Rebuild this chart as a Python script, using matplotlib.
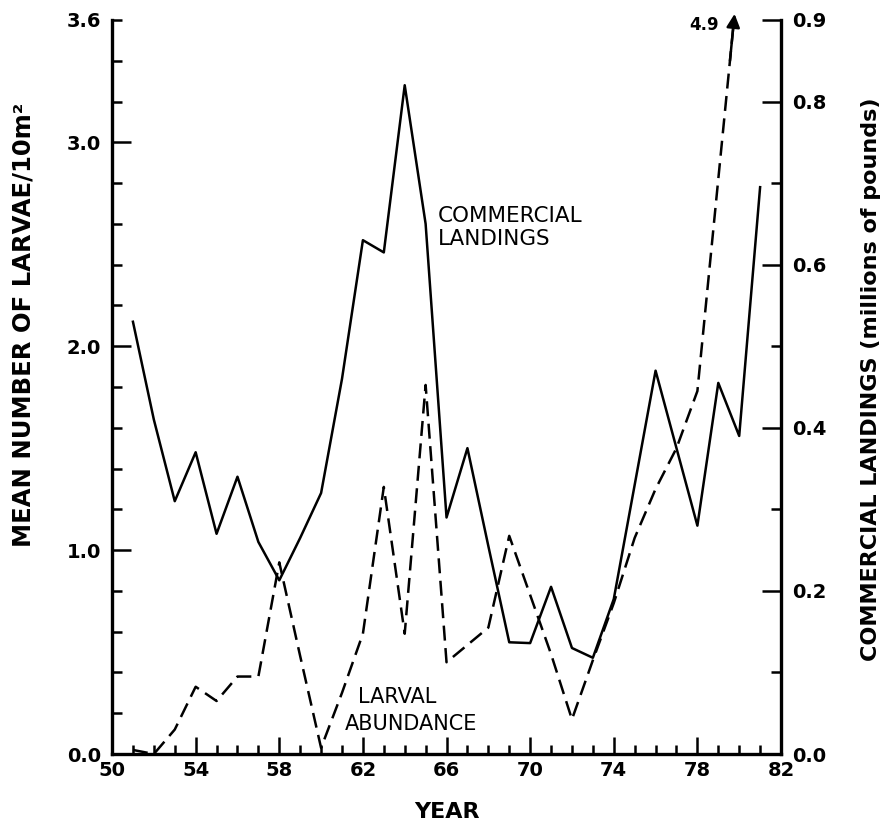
import numpy as np
import matplotlib
matplotlib.use('Agg')
import matplotlib.pyplot as plt

# commercial landings (millions of pounds), right axis
land_years = list(range(51, 82))
landings = [0.53, 0.41, 0.31, 0.37, 0.27, 0.34, 0.26, 0.213, 0.265, 0.32,
            0.46, 0.63, 0.615, 0.82, 0.65, 0.29, 0.375, 0.255, 0.137, 0.136,
            0.205, 0.13, 0.118, 0.19, 0.33, 0.47, 0.375, 0.28, 0.455, 0.39,
            0.695]

# larval abundance (mean number / 10 m2), left axis
larv_years = list(range(51, 79)) + [81]
larvae = [0.02, 0.0, 0.12, 0.33, 0.26, 0.38, 0.38, 0.94, 0.48, 0.03,
          0.30, 0.59, 1.31, 0.59, 1.81, 0.45, 0.535, 0.62, 1.07, 0.78,
          0.49, 0.17, 0.46, 0.74, 1.06, 1.30, 1.50, 1.78, 4.9]

left_major = [0.0, 1.0, 2.0, 3.0, 3.6]
right_major = [0.0, 0.2, 0.4, 0.6, 0.8, 0.9]
x_major = list(range(50, 83, 4))

plt.rcParams['font.family'] = ['DejaVu Sans']

fig = plt.figure(figsize=(8.85, 8.22), dpi=100)
ax = fig.add_axes([0.1266, 0.0827, 0.7559, 0.8930])
ax2 = ax.twinx()

# larval abundance, dashed; clipped at top with an arrow
ax.plot(larv_years, larvae, color='k', lw=1.8, linestyle=(0, (6, 3)),
        dash_capstyle='butt', zorder=3)
ya, yb = larvae[-2], larvae[-1]
xa, xb = larv_years[-2], larv_years[-1]
def x_at(y):
    return xa + (y - ya) / (yb - ya) * (xb - xa)
ax.annotate('', xy=(x_at(3.63), 3.63), xytext=(x_at(3.40), 3.40),
            arrowprops=dict(arrowstyle='-|>', color='k', lw=1.8,
                            mutation_scale=20, shrinkA=0, shrinkB=0),
            annotation_clip=False, zorder=4)
ax.annotate(str(yb), xy=(x_at(3.63), 3.63), xytext=(-11, -8),
            textcoords='offset points', ha='right', va='center',
            fontsize=12, fontweight='bold', annotation_clip=False)

# commercial landings, solid
ax2.plot(land_years, landings, color='k', lw=1.8, zorder=3)

ax.set_xlim(50, 82)
ax.set_ylim(0, 3.6)
ax2.set_ylim(0, 0.9)

for s in ['top', 'right']:
    ax.spines[s].set_visible(False)
for s in ['top', 'left', 'bottom']:
    ax2.spines[s].set_visible(False)
for sp in [ax.spines['left'], ax.spines['bottom'], ax2.spines['right']]:
    sp.set_linewidth(2.4)

# ticks
ax.set_xticks(x_major)
ax.set_xticks(range(50, 83), minor=True)
ax.set_yticks(left_major)
ax.set_yticklabels(['%.1f' % v for v in left_major])
ax.set_yticks(np.arange(0, 3.61, 0.2), minor=True)
ax2.set_yticks(right_major)
ax2.set_yticklabels(['%.1f' % v for v in right_major])
ax2.set_yticks(np.arange(0, 0.91, 0.1), minor=True)

ax.tick_params(axis='both', which='both', direction='in', width=1.8,
               labelsize=14)
ax.tick_params(axis='x', which='major', length=12, pad=5)
ax.tick_params(axis='x', which='minor', length=6.5)
ax.tick_params(axis='y', which='major', length=14, pad=8)
ax.tick_params(axis='y', which='minor', length=7)
ax.yaxis.get_major_ticks()[-1].tick1line.set_markersize(7)
ax2.tick_params(axis='y', which='both', direction='in', width=1.8,
                labelsize=14)
ax2.tick_params(axis='y', which='major', length=14, pad=8)
ax2.tick_params(axis='y', which='minor', length=7)
for lab in ax.get_xticklabels() + ax.get_yticklabels() + ax2.get_yticklabels():
    lab.set_fontweight('bold')

# axis labels
ax.set_xlabel('YEAR', fontsize=16, fontweight='bold')
ax.xaxis.set_label_coords(0.5, -0.066)
ax.set_ylabel('MEAN NUMBER OF LARVAE/10m²', fontsize=17.5, fontweight='bold')
ax.yaxis.set_label_coords(-0.114, 0.585)
ax2.set_ylabel('COMMERCIAL LANDINGS (millions of pounds)', fontsize=16,
               fontweight='bold')
ax2.yaxis.set_label_coords(1.119, 0.51)

# series labels
ax.text(65.6, 2.69, 'COMMERCIAL\nLANDINGS', fontsize=15.5, ha='left', va='top',
        linespacing=1.2)
ax.text(61.77, 0.33, 'LARVAL', fontsize=15, ha='left', va='top')
ax.text(61.15, 0.195, 'ABUNDANCE', fontsize=15, ha='left', va='top')

plt.savefig('out.png', dpi=100)
print('saved out.png')
